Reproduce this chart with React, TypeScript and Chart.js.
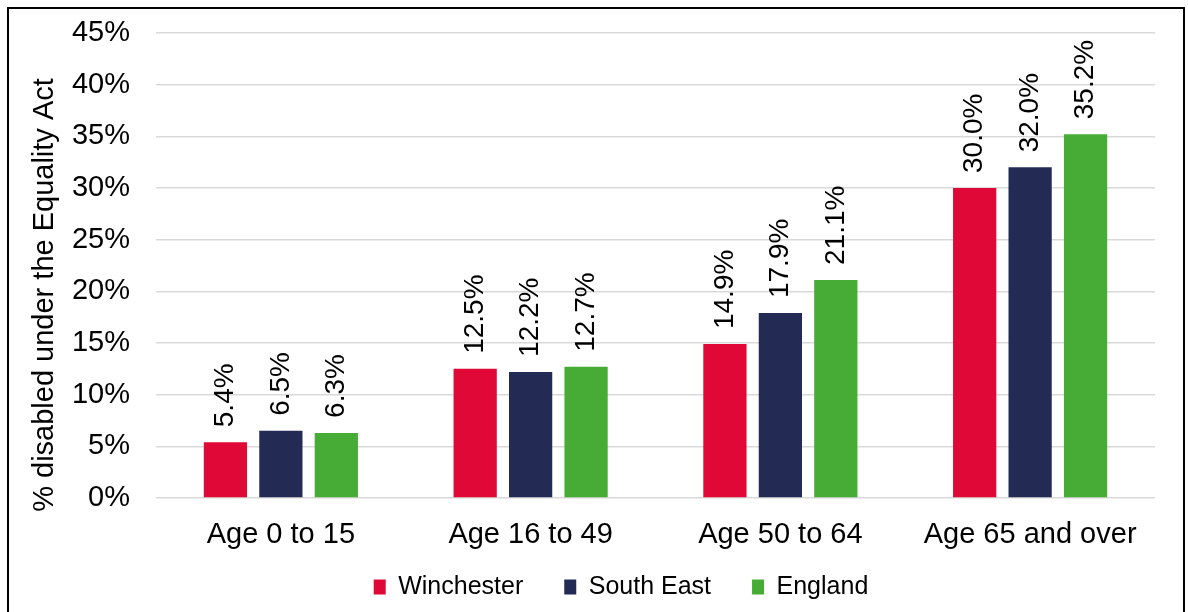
import React, { useEffect, useRef } from "react";
import { Chart, registerables } from "chart.js";

Chart.register(...registerables);

const categories = ["Age 0 to 15", "Age 16 to 49", "Age 50 to 64", "Age 65 and over"];
const seriesNames = ["Winchester", "South East", "England"];
const winchester = [5.4, 12.5, 14.9, 30.0];
const southEast = [6.5, 12.2, 17.9, 32.0];
const england = [6.3, 12.7, 21.1, 35.2];
const seriesColors = ["#E00836", "#232B55", "#47AC35"];
const yTitle = "% disabled under the Equality Act";
const yMin = 0;
const yMax = 45;
const yStep = 5;

const FONT = "'Liberation Sans', Arial, sans-serif";

const valueLabels = {
  id: "valueLabels",
  afterDatasetsDraw(chart: any) {
    const ctx = chart.ctx;
    ctx.save();
    ctx.font = `28px ${FONT}`;
    ctx.fillStyle = "#000";
    ctx.textAlign = "left";
    ctx.textBaseline = "middle";
    chart.data.datasets.forEach((ds: any, di: number) => {
      const meta = chart.getDatasetMeta(di);
      meta.data.forEach((bar: any, i: number) => {
        const v = ds.data[i] as number;
        ctx.save();
        ctx.translate(bar.x, bar.y - 15);
        ctx.rotate(-Math.PI / 2);
        ctx.fillText(v.toFixed(1) + "%", 0, 0);
        ctx.restore();
      });
    });
    ctx.restore();
  },
};

const yAxisTitle = {
  id: "yAxisTitle",
  afterDraw(chart: any) {
    const ctx = chart.ctx;
    const area = chart.chartArea;
    ctx.save();
    ctx.font = `29px ${FONT}`;
    ctx.fillStyle = "#000";
    ctx.textAlign = "center";
    ctx.textBaseline = "middle";
    ctx.translate(36, area.bottom - 203);
    ctx.rotate(-Math.PI / 2);
    ctx.fillText(yTitle, 0, 0);
    ctx.restore();
  },
};

const layoutTweaks = {
  id: "layoutTweaks",
  afterLayout(chart: any) {
    const lg = chart.legend;
    if (lg) {
      lg.left += 9;
      lg.right += 9;
      lg.top += 2;
      lg.bottom += 2;
    }
    const xs = chart.scales.x;
    if (xs) {
      xs.bottom = xs.top + 60;
    }
  },
};

export default function App() {
  const ref = useRef<HTMLCanvasElement | null>(null);
  useEffect(() => {
    if (!ref.current) return;
    const data = [winchester, southEast, england];
    const chart = new Chart(ref.current, {
      type: "bar",
      data: {
        labels: categories,
        datasets: seriesNames.map((name, i) => ({
          label: name,
          data: data[i],
          backgroundColor: seriesColors[i],
          borderWidth: 0,
          categoryPercentage: 0.666,
          barPercentage: 0.78,
        })),
      },
      options: {
        responsive: false,
        animation: false,
        layout: { padding: { left: 60, right: 28, top: 24, bottom: 4.5 } },
        plugins: {
          tooltip: { enabled: false },
          title: { display: false },
          legend: {
            display: true,
            position: "bottom",
            labels: {
              boxWidth: 12,
              boxHeight: 15,
              padding: 41,
              color: "#000",
              font: { family: FONT, size: 25 },
            },
          },
        },
        scales: {
          x: {
            grid: { display: false },
            border: { display: false },
            ticks: {
              color: "#000",
              padding: 12,
              font: { family: FONT, size: 29 },
              maxRotation: 0,
              autoSkip: false,
            },
            afterFit(scale: any) {
              scale.height = 33.5;
            },
          },
          y: {
            min: yMin,
            max: yMax,
            grid: { color: "#D9D9D9", lineWidth: 1.5, drawTicks: false },
            border: { display: false },
            ticks: {
              stepSize: yStep,
              color: "#000",
              padding: 26,
              font: { family: FONT, size: 29 },
              callback: (v: any) => `${v}%`,
            },
            afterFit(scale: any) {
              scale.width = 87;
              scale.paddingTop = 0;
              scale.paddingBottom = 0;
            },
          },
        },
      },
      plugins: [valueLabels, yAxisTitle, layoutTweaks],
    });
    return () => chart.destroy();
  }, []);

  return (
    <div
      style={{
        position: "absolute",
        left: 7,
        top: 7,
        width: 1178,
        height: 605,
        boxSizing: "border-box",
        borderTop: "2px solid #000",
        borderLeft: "2px solid #000",
        borderRight: "2px solid #000",
        background: "#fff",
        overflow: "hidden",
      }}
    >
      <canvas ref={ref} width={1174} height={603} style={{ display: "block" }} />
    </div>
  );
}
